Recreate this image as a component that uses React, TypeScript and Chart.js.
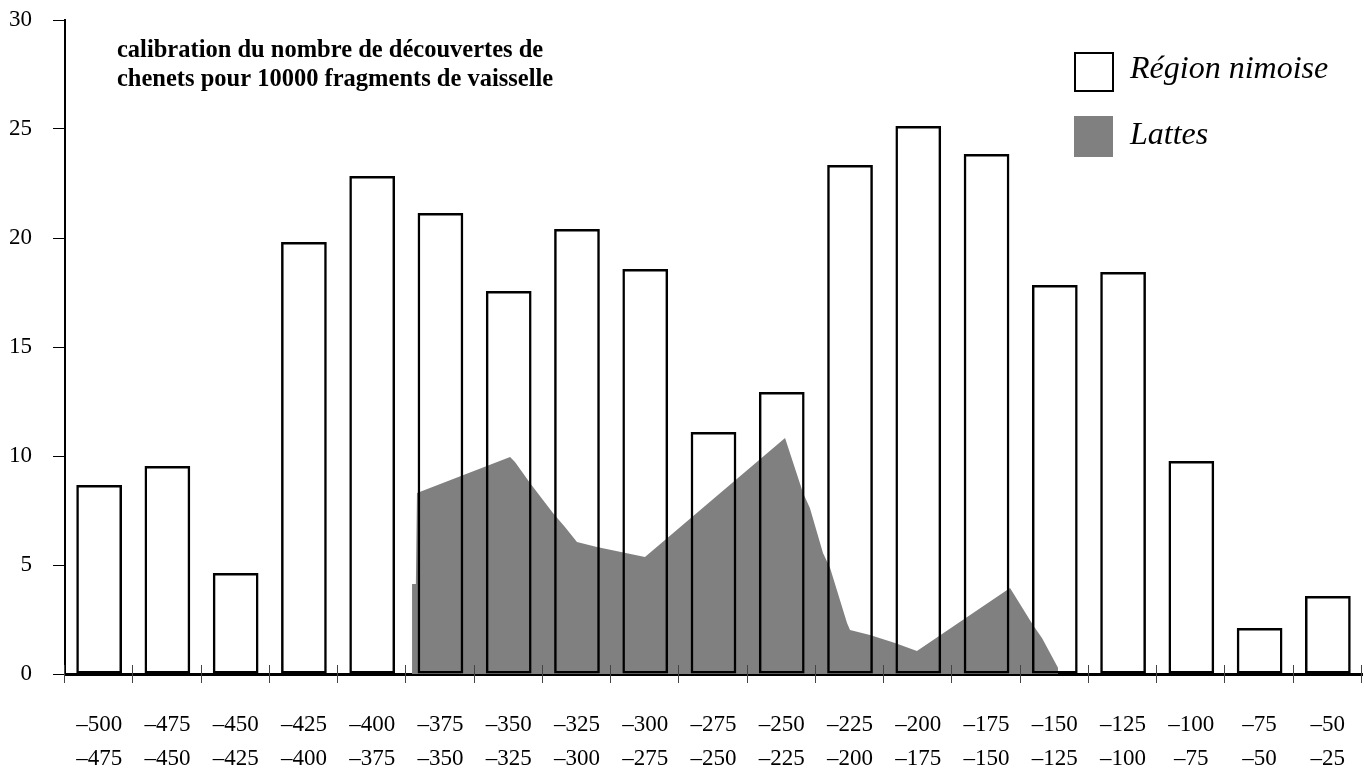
import React, { useEffect, useRef } from "react";
import { Chart, registerables } from "chart.js";

Chart.register(...registerables);

const periodStart = ["–500", "–475", "–450", "–425", "–400", "–375", "–350", "–325", "–300", "–275", "–250", "–225", "–200", "–175", "–150", "–125", "–100", "–75", "–50"];
const periodEnd = ["–475", "–450", "–425", "–400", "–375", "–350", "–325", "–300", "–275", "–250", "–225", "–200", "–175", "–150", "–125", "–100", "–75", "–50", "–25"];

const regionNimoise = [8.67, 9.54, 4.63, 19.82, 22.84, 21.15, 17.57, 20.41, 18.58, 11.1, 12.94, 23.35, 25.14, 23.85, 17.84, 18.44, 9.77, 2.11, 3.58];

const lattesYears = [-372.9, -372.9, -371.5, -371.1, -337.0, -335.2, -329.7, -321.3, -316.9, -312.5, -305.2, -287.6, -236.3, -229.7, -227.2, -222.4, -219.8, -213.6, -212.5, -205.2, -196.0, -188.0, -153.9, -145.5, -142.2, -136.3, -136.3];
const lattesValues = [0, 4.13, 4.13, 8.3, 9.95, 9.72, 8.76, 7.39, 6.74, 6.06, 5.83, 5.37, 10.83, 8.3, 7.61, 5.55, 4.86, 2.34, 2.02, 1.79, 1.42, 1.06, 3.94, 2.25, 1.65, 0.28, 0];

const yMin = 0;
const yMax = 30;
const yStep = 5;
const xYearMin = -500;
const xYearMax = -25;

const titleLines = ["calibration du nombre de découvertes de", "chenets pour 10000 fragments de vaisselle"];
const legendLabels = ["Région nimoise", "Lattes"];

const SERIF = '"Liberation Serif", "Times New Roman", "DejaVu Serif", serif';
const GRAY = "#808080";

export default function App() {
  const ref = useRef<HTMLCanvasElement>(null);

  useEffect(() => {
    if (!ref.current) return;
    const labels = periodStart.map((s, i) => [s, periodEnd[i]]);

    const decor = {
      id: "decor",
      afterDraw(chart: any) {
        const ctx = chart.ctx as CanvasRenderingContext2D;
        const area = chart.chartArea;
        const xs = chart.scales.x;
        const n = labels.length;
        const step = n > 1 ? xs.getPixelForValue(1) - xs.getPixelForValue(0) : area.width;
        ctx.save();
        // x tick marks crossing the axis at category boundaries
        ctx.strokeStyle = "#444";
        ctx.lineWidth = 1;
        for (let i = 0; i <= n; i++) {
          const px = Math.round(xs.getPixelForValue(0) - step / 2 + i * step) - 0.5;
          ctx.beginPath();
          ctx.moveTo(px, area.bottom - 9);
          ctx.lineTo(px, area.bottom + 9);
          ctx.stroke();
        }
        // title
        ctx.fillStyle = "#000";
        ctx.font = `bold 24.5px ${SERIF}`;
        ctx.textBaseline = "alphabetic";
        ctx.textAlign = "left";
        ctx.fillText(titleLines[0], 117, 57);
        ctx.fillText(titleLines[1], 117, 86);
        // legend
        ctx.lineWidth = 2;
        ctx.strokeStyle = "#000";
        ctx.strokeRect(1075, 53, 38, 38);
        ctx.fillStyle = GRAY;
        ctx.fillRect(1074, 116, 39, 41);
        ctx.fillStyle = "#000";
        ctx.font = `italic 32px ${SERIF}`;
        ctx.fillText(legendLabels[0], 1130, 78);
        ctx.fillText(legendLabels[1], 1130, 144);
        ctx.restore();
      },
    };

    const chart = new Chart(ref.current, {
      type: "bar",
      data: {
        labels,
        datasets: [
          {
            type: "bar",
            label: legendLabels[0],
            data: regionNimoise,
            backgroundColor: "rgba(255,255,255,0)",
            borderColor: "#000",
            borderWidth: 2.5,
            borderSkipped: false,
            grouped: false,
            categoryPercentage: 1,
            barPercentage: 0.67,
            xAxisID: "x",
            yAxisID: "y",
            order: 0,
          } as any,
          {
            type: "line",
            label: legendLabels[1],
            data: lattesYears.map((x, i) => ({ x, y: lattesValues[i] })),
            xAxisID: "xl",
            yAxisID: "y",
            fill: "origin",
            backgroundColor: GRAY,
            borderColor: "rgba(0,0,0,0)",
            borderWidth: 0,
            pointRadius: 0,
            tension: 0,
            order: 1,
          } as any,
        ],
      },
      options: {
        responsive: true,
        maintainAspectRatio: false,
        animation: false,
        layout: { padding: { top: 20, right: 2, left: 0, bottom: 0 } },
        plugins: {
          legend: { display: false },
          tooltip: { enabled: false },
          title: { display: false },
        },
        scales: {
          x: {
            type: "category",
            offset: true,
            grid: { display: false },
            border: { display: true, color: "#000", width: 3 },
            ticks: {
              color: "#000",
              font: { family: SERIF, size: 23, lineHeight: 1.48 },
              padding: 26,
              maxRotation: 0,
              autoSkip: false,
            },
            afterFit: (s: any) => {
              s.height = 771 - 674;
              s.paddingLeft = 0;
              s.paddingRight = 0;
            },
          },
          xl: {
            type: "linear",
            axis: "x",
            min: xYearMin,
            max: xYearMax,
            offset: false,
            display: false,
            grid: { offset: false },
          },
          y: {
            type: "linear",
            min: yMin,
            max: yMax,
            ticks: {
              stepSize: yStep,
              color: "#000",
              font: { family: SERIF, size: 23 },
              padding: 21,
            },
            grid: {
              display: true,
              drawOnChartArea: false,
              drawTicks: true,
              tickLength: 12,
              color: "#000",
              lineWidth: 1,
            },
            border: { display: true, color: "#000", width: 2 },
            afterFit: (s: any) => {
              s.width = 65;
              s.paddingTop = 0;
              s.paddingBottom = 0;
            },
          },
        },
      } as any,
      plugins: [decor],
    });
    return () => chart.destroy();
  }, []);

  return (
    <div style={{ position: "fixed", left: 0, top: 0, width: 1364, height: 771, background: "#fff" }}>
      <canvas ref={ref} />
    </div>
  );
}
